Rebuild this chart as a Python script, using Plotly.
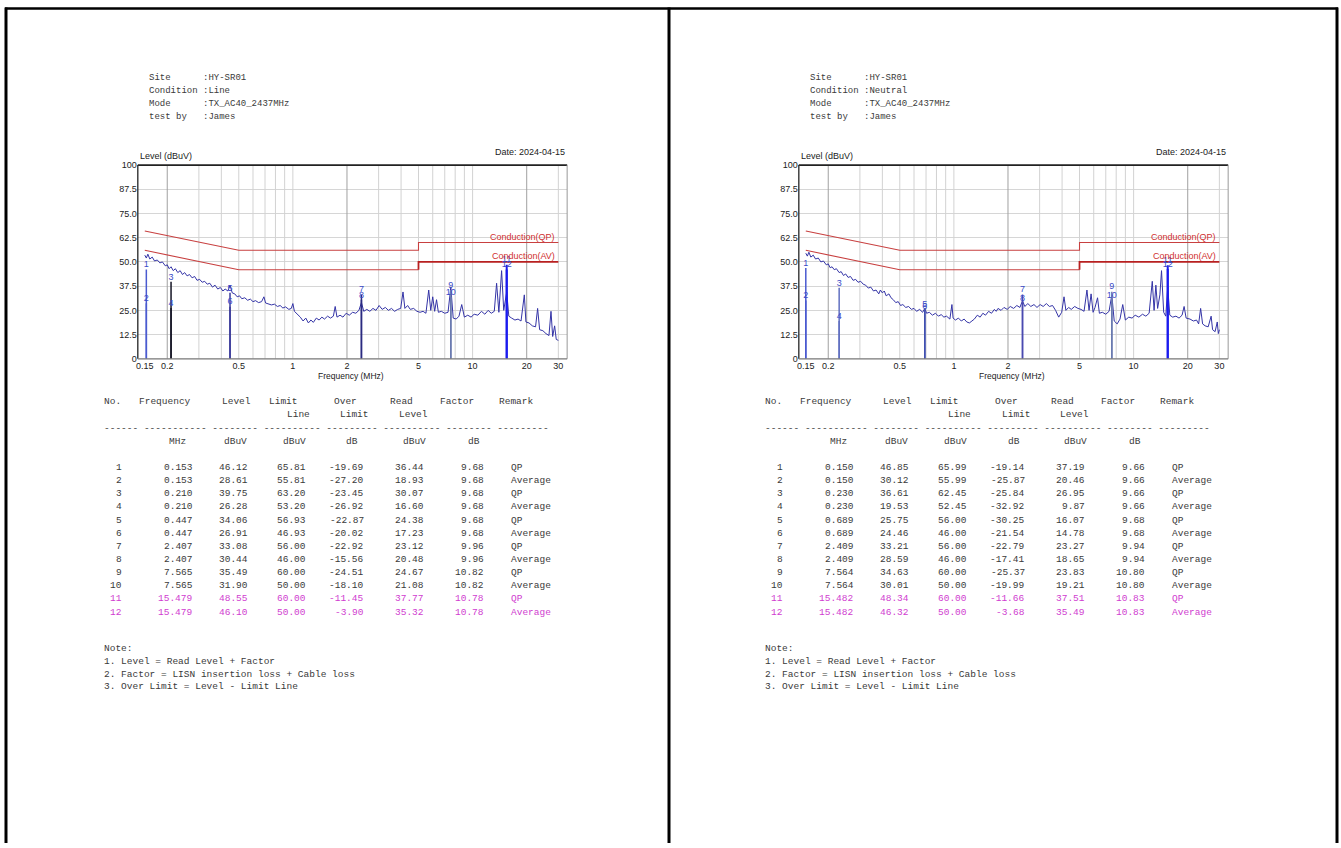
import math
import plotly.graph_objects as go

W, H = 1341, 848

# ------------------------------------------------------------------ data
line_freq = [0.150,0.153,0.156,0.160,0.165,0.170,0.176,0.182,0.188,0.195,0.200,0.205,0.210,0.216,0.222,0.229,0.236,0.243,0.250,0.258,
             0.266,0.275,0.284,0.293,0.303,0.313,0.323,0.334,0.345,0.357,0.369,0.382,0.395,0.408,0.420,0.435,0.447,0.460,0.475,0.490,
             0.505,0.520,0.540,0.560,0.580,0.600,0.620,0.645,0.670,0.690,0.705,0.730,0.760,0.790,0.820,0.850,0.880,0.910,0.950,0.980,
             1.000,1.020,1.060,1.100,1.140,1.180,1.220,1.260,1.300,1.350,1.400,1.450,1.500,1.560,1.620,1.680,1.720,1.760,1.830,1.900,
             1.980,2.060,2.150,2.240,2.330,2.407,2.480,2.580,2.680,2.790,2.900,3.020,3.140,3.270,3.400,3.540,3.680,3.830,3.980,4.100,
             4.200,4.350,4.500,4.700,4.900,5.100,5.300,5.500,5.700,5.850,6.000,6.150,6.300,6.450,6.700,7.000,7.300,7.565,7.800,8.100,
             8.400,8.700,9.000,9.400,9.800,10.20,10.70,11.20,11.70,12.20,12.70,13.20,13.60,14.00,14.50,14.90,15.479,15.90,16.50,17.20,
             17.90,18.60,19.40,19.80,20.60,21.50,22.40,23.00,23.60,24.60,25.60,26.60,27.30,27.90,28.60,29.20,30.00]
line_level = [53.5,52.0,54.0,51.5,52.5,50.5,51.0,49.5,50.0,48.0,48.5,46.5,47.5,45.5,46.5,44.5,45.5,43.5,44.5,42.8,
              43.5,41.8,42.5,40.5,41.0,39.5,40.0,38.5,39.0,37.0,38.0,36.0,36.8,35.0,36.0,35.0,38.0,34.0,33.5,32.0,
              32.5,31.0,31.5,30.2,30.8,29.5,30.0,29.0,29.5,32.0,28.8,28.5,27.8,28.2,27.0,27.5,26.2,26.8,25.5,26.0,
              28.5,24.5,23.0,21.5,19.5,21.0,18.5,20.0,18.8,21.0,20.0,21.5,20.5,22.0,21.0,22.0,27.0,21.5,22.5,21.5,
              23.5,22.5,24.0,23.5,25.0,29.0,24.5,25.5,24.5,26.0,25.0,27.5,25.5,26.5,25.0,26.0,24.5,25.5,26.0,34.5,
              26.0,27.5,25.5,26.0,24.5,24.0,24.5,23.5,35.5,25.0,32.0,24.5,30.5,24.0,24.5,23.5,24.0,37.0,21.0,20.5,
              22.0,28.0,21.5,22.5,21.5,23.0,22.5,24.5,23.0,25.0,23.5,24.5,39.0,24.0,45.5,25.0,34.5,22.0,21.0,20.0,
              20.5,19.5,33.0,19.0,18.5,17.0,16.5,26.0,15.0,14.5,13.0,12.0,24.5,11.5,17.0,10.0,9.5]

neutral_freq = [0.150,0.153,0.156,0.160,0.165,0.170,0.176,0.182,0.188,0.195,0.200,0.205,0.210,0.216,0.222,0.230,0.236,0.243,0.250,0.258,
                0.266,0.275,0.284,0.293,0.303,0.313,0.323,0.334,0.345,0.357,0.369,0.382,0.390,0.400,0.410,0.420,0.435,0.447,0.460,0.475,
                0.490,0.505,0.520,0.540,0.560,0.580,0.600,0.620,0.645,0.670,0.689,0.705,0.730,0.760,0.790,0.820,0.850,0.880,0.910,0.950,
                0.975,0.990,1.020,1.060,1.100,1.140,1.180,1.220,1.260,1.300,1.350,1.400,1.450,1.500,1.560,1.620,1.680,1.720,1.760,1.830,
                1.900,1.980,2.060,2.150,2.240,2.330,2.409,2.480,2.580,2.680,2.790,2.900,3.020,3.140,3.270,3.400,3.540,3.680,3.830,3.980,
                4.100,4.200,4.350,4.500,4.700,4.900,5.100,5.300,5.500,5.650,5.800,5.950,6.100,6.300,6.450,6.700,7.000,7.300,7.564,7.800,
                8.100,8.400,8.700,9.000,9.400,9.800,10.20,10.70,11.20,11.70,12.20,12.70,13.00,13.30,13.60,14.00,14.30,14.70,15.10,15.482,
                15.90,16.50,17.20,17.90,18.60,19.10,19.60,20.60,21.50,22.40,23.00,23.60,24.20,25.00,26.00,27.00,27.50,28.40,29.20,29.60,30.00]
neutral_level = [54.5,53.0,55.0,52.5,53.5,51.5,52.0,50.0,50.5,48.5,49.0,47.0,47.5,46.0,46.5,44.5,45.0,43.0,43.8,42.0,
                 42.5,40.5,41.0,39.5,40.0,38.5,38.0,36.5,37.0,35.0,35.5,33.5,35.5,34.0,35.0,32.5,33.5,31.5,30.5,29.0,
                 29.5,27.5,28.0,26.5,27.0,25.5,26.0,24.5,25.5,24.0,26.0,23.5,24.0,22.5,23.5,22.0,22.8,21.5,22.0,20.5,
                 28.0,21.0,20.0,21.0,19.5,20.5,19.0,18.5,19.5,20.5,22.5,21.5,23.5,22.5,24.5,23.5,25.5,24.5,26.0,25.0,
                 26.5,25.5,27.0,26.0,27.5,26.5,30.0,27.0,28.5,27.0,28.0,26.5,28.0,27.0,28.5,27.0,27.5,25.0,21.5,24.0,
                 32.0,25.0,26.5,25.5,27.0,26.0,25.5,24.5,35.5,25.0,33.5,24.0,26.5,31.5,23.5,24.0,23.0,24.5,33.0,19.5,
                 18.0,20.5,28.0,20.0,21.5,21.0,22.5,21.5,23.0,22.0,23.5,40.0,25.0,38.0,26.0,33.0,45.5,24.0,22.0,37.0,
                 22.5,21.5,22.0,21.0,22.5,27.0,21.0,20.5,19.5,20.0,18.0,26.0,18.0,17.0,16.5,22.0,15.0,14.0,19.0,13.0,15.0]

limit_freq = [0.15, 0.5, 5, 5, 30]
qp_limit = [66, 56, 56, 60, 60]
av_limit = [56, 46, 46, 50, 50]

grid_major = [0.2, 2, 20]
grid_minor = [0.3, 0.4, 0.5, 0.6, 0.7, 0.8, 0.9, 1, 3, 4, 5, 6, 7, 8, 9, 10, 30]
x_ticks = [0.15, 0.2, 0.5, 1, 2, 5, 10, 20, 30]
x_ticktext = ["0.15", "0.2", "0.5", "1", "2", "5", "10", "20", "30"]
y_ticks = [0, 12.5, 25, 37.5, 50, 62.5, 75, 87.5, 100]
y_ticktext = ["0", "12.5", "25.0", "37.5", "50.0", "62.5", "75.0", "87.5", "100"]

table_no = list(range(1, 13))
remark = ["QP", "Average"] * 6

line_tfreq = [0.153, 0.153, 0.210, 0.210, 0.447, 0.447, 2.407, 2.407, 7.565, 7.565, 15.479, 15.479]
line_tlevel = [46.12, 28.61, 39.75, 26.28, 34.06, 26.91, 33.08, 30.44, 35.49, 31.90, 48.55, 46.10]
line_tlimit = [65.81, 55.81, 63.20, 53.20, 56.93, 46.93, 56.00, 46.00, 60.00, 50.00, 60.00, 50.00]
line_tover = [-19.69, -27.20, -23.45, -26.92, -22.87, -20.02, -22.92, -15.56, -24.51, -18.10, -11.45, -3.90]
line_tread = [36.44, 18.93, 30.07, 16.60, 24.38, 17.23, 23.12, 20.48, 24.67, 21.08, 37.77, 35.32]
line_tfactor = [9.68, 9.68, 9.68, 9.68, 9.68, 9.68, 9.96, 9.96, 10.82, 10.82, 10.78, 10.78]

neu_tfreq = [0.150, 0.150, 0.230, 0.230, 0.689, 0.689, 2.409, 2.409, 7.564, 7.564, 15.482, 15.482]
neu_tlevel = [46.85, 30.12, 36.61, 19.53, 25.75, 24.46, 33.21, 28.59, 34.63, 30.01, 48.34, 46.32]
neu_tlimit = [65.99, 55.99, 62.45, 52.45, 56.00, 46.00, 56.00, 46.00, 60.00, 50.00, 60.00, 50.00]
neu_tover = [-19.14, -25.87, -25.84, -32.92, -30.25, -21.54, -22.79, -17.41, -25.37, -19.99, -11.66, -3.68]
neu_tread = [37.19, 20.46, 26.95, 9.87, 16.07, 14.78, 23.27, 18.65, 23.83, 19.21, 37.51, 35.49]
neu_tfactor = [9.66, 9.66, 9.66, 9.66, 9.68, 9.68, 9.94, 9.94, 10.80, 10.80, 10.83, 10.83]

line_info = ["Site      :HY-SR01", "Condition :Line", "Mode      :TX_AC40_2437MHz", "test by   :James"]
neu_info = ["Site      :HY-SR01", "Condition :Neutral", "Mode      :TX_AC40_2437MHz", "test by   :James"]
notes = ["Note:", "1. Level = Read Level + Factor", "2. Factor = LISN insertion loss + Cable loss",
         "3. Over Limit = Level - Limit Line"]
date_text = "Date: 2024-04-15"

line_marker_colors = ["#4a5ad0", "#4a5ad0", "#151525", "#151525", "#3a3a9a", "#3a3a9a",
                      "#2a2a80", "#2a2a80", "#6a7ab0", "#6a7ab0", "#1a1aee", "#1a1aee"]
neu_marker_colors = ["#4a5ad0", "#4a5ad0", "#6070c0", "#6070c0", "#4050b0", "#4050b0",
                     "#4a4ab0", "#4a4ab0", "#6a7ab0", "#6a7ab0", "#1a1aee", "#1a1aee"]

# ------------------------------------------------------------------ helpers
MONO = "Liberation Mono"
SANS = "Liberation Sans"
TXT = "#3a3a3a"
MAG = "#d03cd0"

def px(x):
    return x / W

def py(y):
    return 1 - y / H

fig = go.Figure()
annotations = []
shapes = []

def text(x, y, s, anchor="left", color=TXT, size=9.5, family=MONO):
    annotations.append(dict(x=px(x), y=py(y), xref="paper", yref="paper", text=s.replace(" ", "\u00a0"),
                            showarrow=False, xanchor=anchor, yanchor="middle",
                            font=dict(family=family, size=size, color=color)))

def hline(x0, x1, y, color="black", width=2):
    shapes.append(dict(type="line", xref="paper", yref="paper", x0=px(x0), x1=px(x1), y0=py(y), y1=py(y),
                       line=dict(color=color, width=width)))

def vline(x, y0, y1, color="black", width=2):
    shapes.append(dict(type="line", xref="paper", yref="paper", x0=px(x), x1=px(x), y0=py(y0), y1=py(y1),
                       line=dict(color=color, width=width)))

# page borders
hline(3, 1338, 3.5, width=2.5)
vline(4, 2.5, 848, width=3)
vline(668, 2.5, 848, width=3)
vline(1337, 2.5, 848, width=3)

XL = math.log10(0.15) - 7 / 180
XR = XL + 430 / 180

def panel(idx, off, sfreq, slevel, tfreq, tlevel, tlimit, tover, tread, tfactor, mcolors, info):
    xa = "x" if idx == 1 else "x2"
    ya = "y" if idx == 1 else "y2"
    # grid lines
    for glist, gcol in ((grid_minor, "#d2d2d2"), (grid_major, "#a0a0a0")):
        gx, gy = [], []
        for g in glist:
            gx += [g, g, None]
            gy += [0, 100, None]
        fig.add_trace(go.Scatter(x=gx, y=gy, mode="lines", line=dict(color=gcol, width=1),
                                 xaxis=xa, yaxis=ya, hoverinfo="skip", showlegend=False))
    # limits
    fig.add_trace(go.Scatter(x=limit_freq, y=qp_limit, mode="lines", line=dict(color="#c84040", width=1.1),
                             xaxis=xa, yaxis=ya, hoverinfo="skip", showlegend=False))
    fig.add_trace(go.Scatter(x=limit_freq[:3], y=av_limit[:3], mode="lines", line=dict(color="#c84040", width=1.1),
                             xaxis=xa, yaxis=ya, hoverinfo="skip", showlegend=False))
    fig.add_trace(go.Scatter(x=limit_freq[2:], y=av_limit[2:], mode="lines", line=dict(color="#b82020", width=1.8),
                             xaxis=xa, yaxis=ya, hoverinfo="skip", showlegend=False))
    # spectrum
    fig.add_trace(go.Scatter(x=sfreq, y=slevel, mode="lines", line=dict(color="#3434a6", width=1),
                             xaxis=xa, yaxis=ya, hoverinfo="skip", showlegend=False))
    # marker lines
    for i in range(12):
        fig.add_trace(go.Scatter(x=[tfreq[i], tfreq[i]], y=[0, tlevel[i]], mode="lines",
                                 line=dict(color=mcolors[i], width=2 if i >= 10 else 1.5),
                                 xaxis=xa, yaxis=ya, hoverinfo="skip", showlegend=False))
    fig.add_trace(go.Scatter(x=tfreq, y=tlevel, mode="text", text=[str(n) for n in table_no],
                             textposition="top center", textfont=dict(family=SANS, size=9, color="#3a4ac8"),
                             xaxis=xa, yaxis=ya, hoverinfo="skip", showlegend=False))
    # plot frame
    hline(off + 136, off + 566, 162, color="#222", width=1.6)
    vline(off + 566, 162, 358, color="#999", width=1)
    vline(off + 136, 162, 358, color="#333", width=1.4)
    hline(off + 136, off + 566, 358, color="#777", width=1.2)
    # chart texts
    text(off + 136, 153, "Level (dBuV)", family=SANS, size=9, color="#222")
    text(off + 566, 149, date_text, anchor="right", family=SANS, size=9, color="#222")
    text(off + 350, 375, "Frequency (MHz)", anchor="center", family=SANS, size=8.5, color="#222")
    text(off + 556, 235, "Conduction(QP)", anchor="right", family=SANS, size=9, color="#d03030")
    text(off + 556, 254, "Conduction(AV)", anchor="right", family=SANS, size=9, color="#d03030")
    # header info
    for k, s in enumerate(info):
        text(off + 145, 74 + k * 13.2, s, size=9)
    # table header
    for s, x, y in (("No.", 100, 401), ("Frequency", 135, 401), ("Level", 218, 401), ("Limit", 265, 401),
                    ("Over", 330, 401), ("Read", 387, 401), ("Factor", 437, 401), ("Remark", 496, 401),
                    ("Line", 283, 414), ("Limit", 337, 414), ("Level", 396, 414)):
        text(off + x, y, s)
    text(off + 100, 429, "------ ----------- -------- ---------- --------- ---------- -------- ---------")
    for s, x in (("MHz", 165), ("dBuV", 220), ("dBuV", 279), ("dB", 343), ("dBuV", 400), ("dB", 465)):
        text(off + x, 442, s)
    # table rows
    cols_right = [122, 193, 248, 306, 365, 425, 485]
    for r in range(12):
        y = 468 + r * 13.3
        col = MAG if r >= 10 else TXT
        vals = [str(table_no[r]), f"{tfreq[r]:.3f}", f"{tlevel[r]:.2f}", f"{tlimit[r]:.2f}",
                f"{tover[r]:.2f}", f"{tread[r]:.2f}", f"{tfactor[r]:.2f}"]
        for v, xr in zip(vals, cols_right):
            text(off + xr, y, v, anchor="right", color=col)
        text(off + 508, y, remark[r], color=col)
    # notes
    for k, s in enumerate(notes):
        text(off + 100, 651 + k * 13.0, s)


panel(1, 0, line_freq, line_level, line_tfreq, line_tlevel, line_tlimit, line_tover, line_tread,
      line_tfactor, line_marker_colors, line_info)
panel(2, 662, neutral_freq, neutral_level, neu_tfreq, neu_tlevel, neu_tlimit, neu_tover, neu_tread,
      neu_tfactor, neu_marker_colors, neu_info)

axis_x = dict(type="log", range=[XL, XR], tickvals=x_ticks, ticktext=x_ticktext, showgrid=False,
              zeroline=False, showline=False, ticks="", tickfont=dict(family=SANS, size=9, color="#222"),
              fixedrange=True)
axis_y = dict(range=[0, 100], tickvals=y_ticks, ticktext=y_ticktext, showgrid=True, gridcolor="#d6d6d6",
              gridwidth=1, zeroline=False, showline=False, ticks="",
              tickfont=dict(family=SANS, size=9, color="#222"), fixedrange=True)

fig.update_layout(
    width=W, height=H, margin=dict(l=0, r=0, t=0, b=0),
    paper_bgcolor="white", plot_bgcolor="white", showlegend=False,
    xaxis=dict(axis_x, domain=[px(136), px(566)], anchor="y"),
    yaxis=dict(axis_y, domain=[py(358), py(162)], anchor="x"),
    xaxis2=dict(axis_x, domain=[px(798), px(1228)], anchor="y2"),
    yaxis2=dict(axis_y, domain=[py(358), py(162)], anchor="x2"),
    annotations=annotations, shapes=shapes,
)

fig.write_html("out.html", config={"displayModeBar": False},
               post_script="document.body.style.margin='0px';document.body.style.padding='0px';"
                           "document.body.style.overflow='hidden';")
